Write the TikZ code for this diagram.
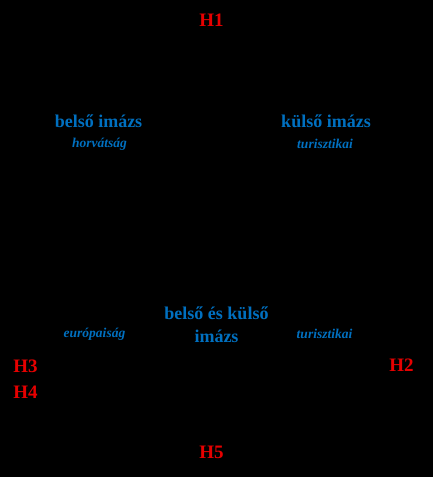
\documentclass[tikz,border=0pt]{standalone}
\usepackage{fontspec}
\setmainfont{Liberation Serif}
\definecolor{hred}{RGB}{230,0,0}
\definecolor{iblue}{RGB}{0,112,192}
\tikzset{
  hlabel/.style={text=hred,font=\fontsize{19}{21}\selectfont\bfseries,inner sep=0pt},
  imtitle/.style={text=iblue,font=\fontsize{18}{23}\selectfont\bfseries,inner sep=0pt,align=center},
  imsub/.style={text=iblue,font=\fontsize{13.5}{15}\selectfont\bfseries\itshape,inner sep=0pt}
}
\begin{document}
\begin{tikzpicture}[x=1pt,y=-1pt]
\fill[black] (0,0) rectangle (433,477);
\useasboundingbox (0,0) rectangle (433,477);
\node[hlabel] (h1) at (211.5,20) {H1};
\node[hlabel] (h2) at (401.5,365) {H2};
\node[hlabel] (h3) at (25.5,366) {H3};
\node[hlabel] (h4) at (25.5,392) {H4};
\node[hlabel] (h5) at (211.5,452) {H5};
\node[imtitle] (bi) at (98.5,121) {belső imázs};
\node[imsub] (bis) at (99.5,144) {horvátság};
\node[imtitle] (ki) at (326,121) {külső imázs};
\node[imsub] (kis) at (325,144) {turisztikai};
\node[imtitle] (bk) at (216.5,324.5) {belső és külső\\imázs};
\node[imsub] (eu) at (94.5,334) {európaiság};
\node[imsub] (tu) at (324.5,334) {turisztikai};
\end{tikzpicture}
\end{document}
